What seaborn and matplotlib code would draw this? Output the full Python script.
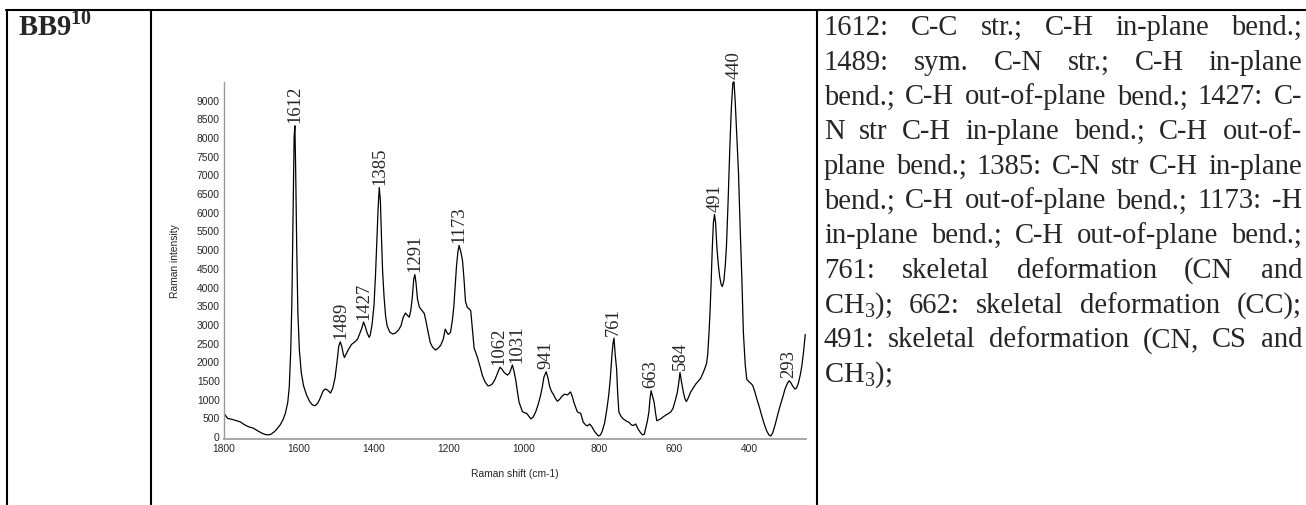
import numpy as np
import pandas as pd
import matplotlib
matplotlib.use("Agg")
import matplotlib.pyplot as plt
from matplotlib.lines import Line2D
from matplotlib.ticker import MultipleLocator
import seaborn as sns

# Raman spectrum of BB9 (wavenumber in cm-1, intensity in counts)
shift_cm1 = [
    1800, 1790, 1780, 1770, 1757, 1745, 1735, 1722, 1710, 1700, 1690, 1680, 1673, 1665, 1658,
    1650, 1642, 1636, 1630, 1626, 1622, 1619, 1616, 1613, 1611, 1609, 1606, 1603, 1599, 1594,
    1588, 1580, 1572, 1564, 1557, 1550, 1544, 1536, 1530, 1524, 1516, 1510, 1504, 1499, 1494,
    1490, 1486, 1482, 1479, 1474, 1468, 1460, 1450, 1444, 1438, 1432, 1428, 1424, 1418, 1413,
    1410, 1405, 1400, 1396, 1392, 1389, 1386, 1383, 1380, 1377, 1373, 1369, 1365, 1358, 1350,
    1342, 1335, 1328, 1322, 1316, 1311, 1306, 1302, 1298, 1294, 1291, 1288, 1284, 1279, 1272,
    1266, 1262, 1257, 1250, 1244, 1236, 1228, 1222, 1215, 1210, 1206, 1202, 1196, 1191, 1187,
    1183, 1180, 1176, 1173, 1169, 1164, 1160, 1156, 1151, 1146, 1142, 1138, 1133, 1124, 1117,
    1111, 1104, 1096, 1089, 1084, 1078, 1073, 1068, 1064, 1059, 1053, 1044, 1039, 1036, 1031,
    1027, 1022, 1017, 1013, 1004, 998, 993, 987, 982, 976, 969, 962, 956, 951, 947,
    941, 936, 932, 927, 922, 917, 911, 905, 900, 892, 884, 876, 871, 867, 862,
    858, 853, 849, 842, 836, 831, 825, 819, 813, 807, 801, 796, 791, 785, 779,
    774, 770, 766, 763, 760, 757, 753, 750, 747, 741, 735, 727, 720, 714, 709,
    702, 696, 690, 684, 679, 676, 671, 667, 664, 661, 657, 653, 649, 646, 641,
    636, 629, 622, 615, 609, 603, 598, 594, 591, 587, 584, 580, 575, 571, 567,
    562, 556, 549, 542, 535, 529, 522, 517, 513, 510, 507, 504, 501, 498, 495,
    492, 489, 486, 482, 478, 474, 471, 467, 463, 460, 456, 451, 447, 443, 440,
    437, 433, 428, 424, 419, 415, 410, 406, 400, 394, 390, 385, 379, 372, 366,
    360, 353, 347, 342, 337, 331, 324, 317, 310, 304, 298, 293, 288, 284, 280,
    277, 273, 268, 263, 259, 254, 250,
]
intensity = [
    600, 470, 450, 420, 380, 300, 250, 210, 140, 80, 40, 30, 60, 120, 200,
    300, 450, 620, 900, 1300, 2300, 3600, 5800, 8000, 8300, 7200, 5000, 3300, 2300, 1700,
    1350, 1100, 930, 830, 810, 880, 1000, 1200, 1260, 1230, 1150, 1280, 1550, 1950, 2400,
    2520, 2400, 2200, 2100, 2200, 2320, 2450, 2530, 2590, 2740, 2900, 3050, 2950, 2750, 2640,
    2700, 3000, 3500, 4300, 5300, 6100, 6650, 6300, 5300, 4400, 3700, 3200, 2950, 2780, 2730,
    2760, 2830, 2950, 3180, 3290, 3230, 3180, 3350, 3700, 4200, 4320, 4100, 3660, 3450, 3360,
    3280, 3100, 2850, 2500, 2380, 2300, 2360, 2430, 2600, 2860, 2780, 2720, 2770, 3100, 3480,
    4100, 4550, 4950, 5100, 4950, 4700, 4200, 3600, 3440, 3400, 3350, 2900, 2350, 2100, 1850,
    1620, 1450, 1340, 1360, 1400, 1500, 1620, 1750, 1840, 1790, 1700, 1630, 1680, 1750, 1900,
    1750, 1500, 1150, 900, 650, 620, 610, 530, 460, 500, 640, 850, 1080, 1320, 1570,
    1720, 1550, 1340, 1200, 1120, 1020, 930, 980, 1050, 1120, 1100, 1180, 1050, 900, 760,
    650, 620, 610, 370, 300, 270, 320, 250, 140, 60, 0, 30, 140, 350, 720,
    1100, 1520, 2100, 2450, 2620, 2200, 1790, 1100, 640, 520, 455, 400, 365, 300, 280,
    320, 190, 100, 30, 50, 190, 400, 640, 1000, 1210, 1050, 900, 600, 410, 430,
    455, 510, 560, 600, 640, 730, 900, 1060, 1170, 1450, 1700, 1450, 1170, 1000, 920,
    1020, 1170, 1280, 1390, 1470, 1540, 1700, 1830, 1950, 2200, 2700, 3300, 4100, 5000, 5700,
    5930, 5700, 5100, 4600, 4250, 4050, 4000, 4150, 4600, 5100, 6200, 7750, 8800, 9450, 9480,
    9000, 8100, 7040, 5700, 4190, 2770, 1900, 1520, 1450, 1400, 1350, 1200, 990, 760, 540,
    340, 140, 30, 0, 80, 275, 550, 810, 1040, 1255, 1400, 1480, 1420, 1345, 1290,
    1255, 1290, 1430, 1650, 1880, 2300, 2720,
]

# Assigned band positions written above the peaks
peak_labels = [1612, 1489, 1427, 1385, 1291, 1173, 1062, 1031, 941, 761, 663, 584, 491, 440, 293]
# small sideways nudges (points) for labels sitting close together
label_nudge = {1062: -1.5, 1031: 3.5}

x_ticks = [1800, 1600, 1400, 1200, 1000, 800, 600, 400]
y_ticks = list(range(0, 9001, 500))

# Band assignments, one entry per typeset line of the table cell
assignment_lines = [
    "1612: C-C str.; C-H in-plane bend.;",
    "1489: sym. C-N str.; C-H in-plane",
    "bend.; C-H out-of-plane bend.; 1427: C-",
    "N str C-H in-plane bend.; C-H out-of-",
    "plane bend.; 1385: C-N str C-H in-plane",
    "bend.; C-H out-of-plane bend.; 1173: -H",
    "in-plane bend.; C-H out-of-plane bend.;",
    "761: skeletal deformation (CN and",
    r"CH$_\mathregular{3}$); 662: skeletal deformation (CC);",
    "491: skeletal deformation (CN, CS and",
    r"CH$_\mathregular{3}$);",
]
sample_name = r"BB9$^\mathregular{10}$"

sns.set_style("white")
plt.rcParams["font.family"] = ["Liberation Sans", "DejaVu Sans"]
plt.rcParams["mathtext.fontset"] = "custom"
plt.rcParams["mathtext.rm"] = "Liberation Serif"

W, H = 1306, 506
fig = plt.figure(figsize=(W / 100, H / 100), dpi=100)
fig.patch.set_facecolor("white")


def fx(px):
    return px / W


def fy(py):
    return 1 - py / H


# ---- spectrum panel ----
ax = fig.add_axes([fx(224), fy(440), fx(806) - fx(224), fy(82) - fy(440)])
spec = pd.DataFrame({"shift": shift_cm1, "intensity": intensity})
sns.lineplot(data=spec, x="shift", y="intensity", sort=False, estimator=None,
             color="black", linewidth=0.9, ax=ax)
ax.set_xlim(1800, 248)
ax.set_ylim(-80, 9500)
ax.set_xticks(x_ticks)
ax.set_yticks(y_ticks)
ax.xaxis.set_minor_locator(MultipleLocator(50))
ax.tick_params(axis="both", which="major", direction="in", length=2.5, width=0.8,
               color="#444444", labelsize=7.4, pad=3)
ax.tick_params(axis="x", which="minor", direction="in", length=1.5, width=0.8, color="#444444")
ax.set_xlabel("Raman shift (cm-1)", fontsize=7.4, labelpad=11)
ax.set_ylabel("Raman intensity", fontsize=7.4, labelpad=12)
for side in ("top", "right"):
    ax.spines[side].set_visible(False)
ax.spines["bottom"].set_color("#a8a8a8")
ax.spines["bottom"].set_linewidth(1.4)
ax.spines["left"].set_color("#9a9a9a")
ax.spines["left"].set_linewidth(1.0)
ax.spines["left"].set_linestyle((0, (1, 1)))

sh = np.array(shift_cm1)
it = np.array(intensity)
for p in peak_labels:
    near = np.abs(sh - p) <= 5
    top = it[near].max()
    ax.annotate(str(p), xy=(p, top), xytext=(label_nudge.get(p, 0), 2.5),
                textcoords="offset points", rotation=90, ha="center", va="bottom",
                fontsize=13.4, family="Liberation Serif", annotation_clip=False)

# ---- table rules ----
rule = dict(color="black", linewidth=1.5, transform=fig.transFigure)
fig.add_artist(Line2D([fx(6), fx(W)], [fy(10.5), fy(10.5)], **rule))
for xv in (7, 151, 817):
    fig.add_artist(Line2D([fx(xv), fx(xv)], [fy(10.5), fy(H)], **rule))

serif = dict(family="Liberation Serif", fontsize=20.6, va="baseline")
base0, lead = 35, 34.7
fig.text(fx(18), fy(base0), sample_name, fontweight="bold", **serif)

# ---- justified assignment text ----
col_left, col_right = 824, 1302
fig.canvas.draw()
renderer = fig.canvas.get_renderer()
space_w = 0.25 * 20.6 * 100 / 72
for i, line in enumerate(assignment_lines):
    words = line.split(" ")
    yy = fy(base0 + i * lead)
    texts = [fig.text(0, yy, w, **serif) for w in words]
    widths = [t.get_window_extent(renderer).width for t in texts]
    last = i == len(assignment_lines) - 1
    if not last and len(words) > 1:
        gap = (col_right - col_left - sum(widths)) / (len(words) - 1)
    else:
        gap = space_w
    xpos = col_left
    for t, w in zip(texts, widths):
        t.set_x(fx(xpos))
        xpos += w + gap

fig.savefig("out.png", dpi=100, facecolor="white")
